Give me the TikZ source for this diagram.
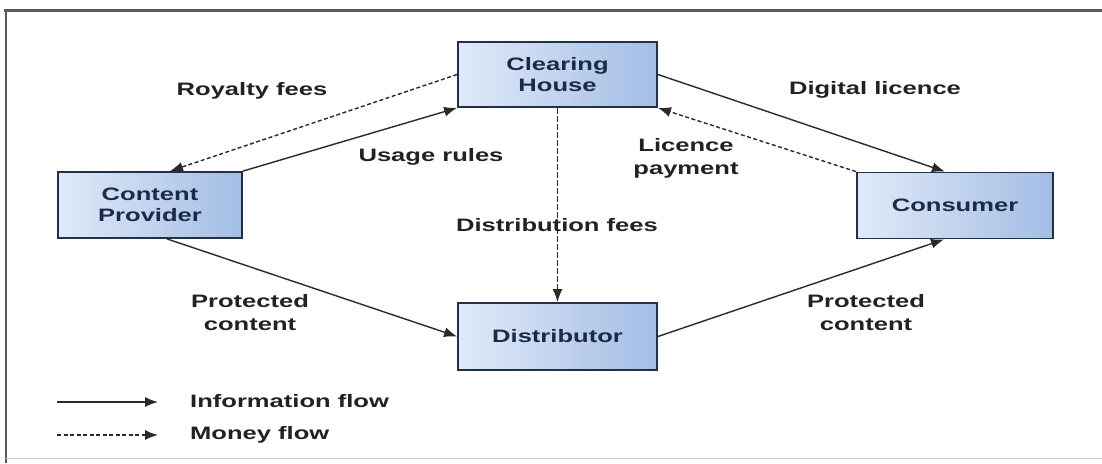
\documentclass[tikz,border=0pt]{standalone}
\usepackage{fontspec}
\setmainfont{Liberation Sans}
\newfontfamily\labfont[FakeStretch=1.42]{Liberation Sans}
\usetikzlibrary{arrows.meta,calc}
\definecolor{boxline}{HTML}{22304A}
\definecolor{boxL}{HTML}{E0EAF8}
\definecolor{boxR}{HTML}{A3BDE4}
\definecolor{boxtext}{HTML}{1B2A4A}
\definecolor{labtext}{HTML}{222222}
\definecolor{linec}{HTML}{2A2A2A}
\definecolor{framec}{HTML}{5A5A5A}
\begin{document}
\begin{tikzpicture}[x=1pt,y=-1pt,
  box/.style={draw=boxline, line width=1.8pt, left color=boxL, right color=boxR,
    minimum width=199pt, minimum height=65pt, inner sep=0pt, align=center,
    font=\labfont\bfseries\fontsize{18}{21}\selectfont, text=boxtext},
  lab/.style={font=\labfont\bfseries\fontsize{18}{23}\selectfont, text=labtext,
    align=center, inner sep=0pt},
  info/.style={draw=linec, line width=1.4pt, -{Latex[length=13pt,width=10pt]}},
  money/.style={info, dash pattern=on 4pt off 2.5pt},
  moneyv/.style={info, dash pattern=on 6pt off 2pt}]
\useasboundingbox (0,0) rectangle (1102,463);
\fill[white] (0,0) rectangle (1102,463);
% frame
\draw[framec, line width=3pt] (4,10.5) -- (1102,10.5);
\draw[framec, line width=2.5pt] (6,9) -- (6,463);
\draw[black!22, line width=1pt] (6,458) -- (1102,458);
% nodes
\node[box] (CH) at (557.5,74.5) {Clearing\\House};
\node[box, minimum width=184pt, minimum height=66pt] (CP) at (150,205) {Content\\Provider};
\node[box, minimum width=196pt, minimum height=66pt] (CO) at (955,205.5) {Consumer};
\node[box, minimum height=67pt] (DI) at (557.5,336.5) {Distributor};
% connectors
\draw[money] (CH.west) -- ([xshift=20pt]CP.north);
\draw[info] (CP.north east) -- (CH.south west);
\draw[info] (CH.east) -- ([xshift=-10pt]CO.north);
\draw[money] (CO.north west) -- (CH.south east);
\draw[moneyv] (CH.south) -- (DI.north);
\draw[info] ([xshift=17pt]CP.south) -- (DI.west);
\draw[info] (DI.east) -- ([xshift=-11pt]CO.south);
% labels
\node[lab] (lroy) at (252,91) {Royalty fees};
\node[lab] (luse) at (431,157) {Usage rules};
\node[lab] (ldig) at (875,90) {Digital licence};
\node[lab] (lpay) at (686,158) {Licence\\payment};
\node[lab] (ldis) at (557,225) {Distribution fees};
\node[lab] (lpc1) at (250,313) {Protected\\content};
\node[lab] (lpc2) at (866,313) {Protected\\content};
% legend
\coordinate (a1) at (57,402);
\coordinate (b1) at (158,402);
\coordinate (a2) at (57,435);
\coordinate (b2) at (158,435);
\draw[info] (a1) -- (b1);
\draw[money] (a2) -- (b2);
\node[lab, anchor=west] (linf) at (190,401) {Information flow};
\node[lab, anchor=west] (lmon) at (190,435) {Money flow};
\end{tikzpicture}
\end{document}
